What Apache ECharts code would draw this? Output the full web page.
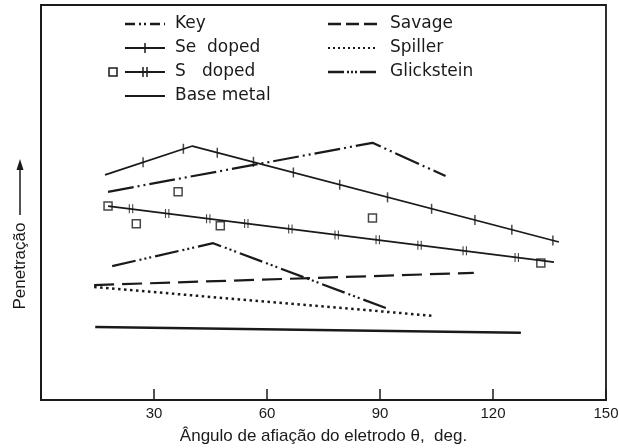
<!DOCTYPE html>
<html>
<head>
<meta charset="utf-8">
<script src="https://cdn.jsdelivr.net/npm/echarts@6/dist/echarts.min.js"></script>
<style>html,body{margin:0;padding:0;background:#fff}#c{width:619px;height:448px}</style>
</head>
<body>
<div id="c"></div>
<script>
// x: electrode tip angle (deg), y: penetration (arbitrary units 0-100)
const xTicks = [0, 30, 60, 90, 120, 150];
const keyData = [[17.8, 52.7], [88.0, 65.1], [107.4, 56.7]];
const seLine = [[17.0, 57.0], [40.2, 64.3], [137.5, 40.0]];
const seTicks = [[27.1, 60.2], [37.8, 63.6], [46.8, 62.6], [56.4, 60.3], [67.0, 57.6], [79.3, 54.5], [92.0, 51.3], [103.7, 48.4], [115.2, 45.6], [125.0, 43.1], [135.9, 40.4]];
const sLine = [[17.8, 49.1], [136.2, 34.9]];
const sTicks = [[23.9, 48.4], [33.5, 47.2], [44.4, 45.9], [54.5, 44.7], [66.2, 43.3], [78.5, 41.8], [89.4, 40.6], [100.5, 39.2], [112.5, 37.8], [126.3, 36.1]];
const sPoints = [[17.8, 49.1], [25.3, 44.6], [36.4, 52.7], [47.6, 44.1], [88.0, 46.1], [132.7, 34.7]];
const baseData = [[14.4, 18.5], [127.4, 17.0]];
const savageData = [[14.1, 29.1], [114.9, 32.2]];
const spillerData = [[14.1, 28.6], [104.3, 21.3]];
const glickData = [[18.9, 33.9], [45.7, 39.7], [92.3, 23.0]];

const leftLegend = ['Key', 'Se  doped', 'S   doped', 'Base metal'];
const rightLegend = ['Savage', 'Spiller', 'Glickstein'];

const INK = '#1a1a1a';
const keyDash = [26, 4, 2, 4, 2, 4];
const glickDash = [24, 4, 2, 3, 2, 3, 2, 4];
const savageDash = [20, 8];
const spillerDash = [2.5, 3.5];

function lineSeries(data, dash, w) {
  return {
    type: 'line', data: data, symbol: 'none', silent: true, animation: false,
    lineStyle: { color: INK, width: w || 2, type: dash || 'solid' }
  };
}

const chart = echarts.init(document.getElementById('c'), null, { renderer: 'canvas' });

const legendGraphics = [];
const fontFam = '"DejaVu Sans", sans-serif';
const lRows = [24, 48, 72, 96];
const rRows = [24, 48, 72];
// left legend symbols
const lx1 = 125, lx2 = 165, ltx = 175;
legendGraphics.push({ type: 'line', shape: { x1: lx1, y1: lRows[0], x2: lx2, y2: lRows[0] }, style: { stroke: INK, lineWidth: 2.5, lineDash: [10, 4, 2, 3, 2, 4] } });
legendGraphics.push({ type: 'line', shape: { x1: lx1, y1: lRows[1], x2: lx2, y2: lRows[1] }, style: { stroke: INK, lineWidth: 2 } });
legendGraphics.push({ type: 'line', shape: { x1: 145, y1: lRows[1] - 5, x2: 145, y2: lRows[1] + 5 }, style: { stroke: INK, lineWidth: 1.5 } });
legendGraphics.push({ type: 'rect', shape: { x: 109, y: lRows[2] - 4, width: 8, height: 8 }, style: { fill: '#fff', stroke: INK, lineWidth: 1.5 } });
legendGraphics.push({ type: 'line', shape: { x1: lx1, y1: lRows[2], x2: lx2, y2: lRows[2] }, style: { stroke: INK, lineWidth: 2 } });
legendGraphics.push({ type: 'line', shape: { x1: 143, y1: lRows[2] - 5, x2: 143, y2: lRows[2] + 5 }, style: { stroke: INK, lineWidth: 1.5 } });
legendGraphics.push({ type: 'line', shape: { x1: 147, y1: lRows[2] - 5, x2: 147, y2: lRows[2] + 5 }, style: { stroke: INK, lineWidth: 1.5 } });
legendGraphics.push({ type: 'line', shape: { x1: lx1, y1: lRows[3], x2: lx2, y2: lRows[3] }, style: { stroke: INK, lineWidth: 2 } });
leftLegend.forEach((t, i) => {
  legendGraphics.push({ type: 'text', x: ltx, y: lRows[i], style: { text: t, font: '17px ' + fontFam, fill: INK, textVerticalAlign: 'middle', verticalAlign: 'middle' } });
});
// right legend symbols
const rx1 = 328, rx2 = 377, rtx = 390;
legendGraphics.push({ type: 'line', shape: { x1: rx1, y1: rRows[0], x2: rx2, y2: rRows[0] }, style: { stroke: INK, lineWidth: 2.5, lineDash: [13, 5] } });
legendGraphics.push({ type: 'line', shape: { x1: rx1, y1: rRows[1], x2: rx2, y2: rRows[1] }, style: { stroke: INK, lineWidth: 2, lineDash: [2, 3] } });
legendGraphics.push({ type: 'line', shape: { x1: rx1, y1: rRows[2], x2: rx2, y2: rRows[2] }, style: { stroke: INK, lineWidth: 2.5, lineDash: [16, 3, 2, 2, 2, 2, 2, 3] } });
rightLegend.forEach((t, i) => {
  legendGraphics.push({ type: 'text', x: rtx, y: rRows[i], style: { text: t, font: '17px ' + fontFam, fill: INK, textVerticalAlign: 'middle', verticalAlign: 'middle' } });
});
// y axis title with arrow
legendGraphics.push({ type: 'text', x: 20, y: 266, rotation: Math.PI / 2, style: { text: 'Penetração', font: '17px "Liberation Sans", Arial, sans-serif', fill: INK, align: 'center', verticalAlign: 'middle', textAlign: 'center', textVerticalAlign: 'middle' } });
legendGraphics.push({ type: 'line', shape: { x1: 20, y1: 215, x2: 20, y2: 168 }, style: { stroke: INK, lineWidth: 1.5 } });
legendGraphics.push({ type: 'polygon', shape: { points: [[20, 159], [16.5, 170], [23.5, 170]] }, style: { fill: INK } });

chart.setOption({
  animation: false,
  backgroundColor: '#fff',
  grid: { left: 41, right: 13, top: 5, bottom: 48, show: true, borderColor: INK, borderWidth: 1.8, containLabel: false, outerBoundsMode: 'none' },
  xAxis: {
    type: 'value', min: xTicks[0], max: xTicks[xTicks.length - 1], interval: 30,
    name: 'Ângulo de afiação do eletrodo θ,  deg.', nameLocation: 'middle', nameGap: 28,
    nameTextStyle: { fontSize: 17, color: INK, fontFamily: '"Liberation Sans", Arial, sans-serif' },
    axisLine: { lineStyle: { color: INK, width: 1.8 } },
    axisTick: { inside: true, length: 11, lineStyle: { color: INK, width: 1.5 } },
    splitLine: { show: false },
    axisLabel: { color: INK, fontSize: 15, margin: 6, fontFamily: '"Liberation Sans", Arial, sans-serif',
      formatter: v => (v === 0 ? '' : String(v)) }
  },
  yAxis: {
    type: 'value', min: 0, max: 100,
    axisLine: { show: true, lineStyle: { color: INK, width: 1.8 } },
    axisTick: { show: false }, axisLabel: { show: false }, splitLine: { show: false }
  },
  series: [
    lineSeries(keyData, keyDash, 2.2),
    lineSeries(seLine, 'solid', 1.8),
    { type: 'scatter', data: seTicks, symbol: 'rect', symbolSize: [1.5, 10], silent: true, itemStyle: { color: INK } },
    lineSeries(sLine, 'solid', 1.8),
    { type: 'scatter', data: sTicks, symbol: 'path://M0,0h1v10h-1zM3,0h1v10h-1z', symbolSize: [4.5, 9], silent: true, itemStyle: { color: INK } },
    { type: 'scatter', data: sPoints, symbol: 'rect', symbolSize: 8, silent: true, itemStyle: { color: '#fff', borderColor: INK, borderWidth: 1.5 } },
    lineSeries(baseData, 'solid', 2.5),
    lineSeries(savageData, savageDash, 2.2),
    lineSeries(spillerData, spillerDash, 2.5),
    lineSeries(glickData, glickDash, 2.2)
  ],
  graphic: legendGraphics
});
</script>
</body>
</html>
